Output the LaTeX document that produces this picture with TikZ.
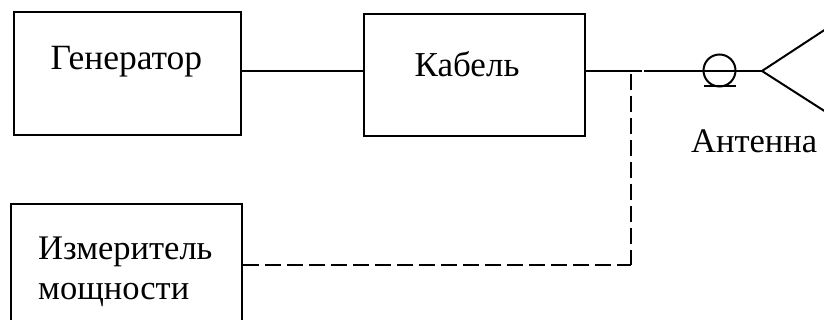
\documentclass[tikz,border=0pt]{standalone}
\usepackage{fontspec}
\setmainfont{Liberation Serif}
\tikzset{
  x=1pt,y=-1pt,
  block/.style={draw=black,line width=2pt,rectangle,inner sep=0pt,anchor=north west},
  wire/.style={draw=black,line width=2pt},
  dashwire/.style={draw=black,line width=2pt,dash pattern=on 16pt off 6pt},
  lbl/.style={inner sep=0pt,anchor=base west,text=black,font=\fontsize{#1}{#1}\selectfont},
  lbl/.default=35
}
\begin{document}
\begin{tikzpicture}
\useasboundingbox (0,0) rectangle (824,320);
\clip (0,0) rectangle (824,320);
\node[block,minimum width=227pt,minimum height=122.5pt] (gen) at (13,11.5) {};
\node[block,minimum width=221pt,minimum height=122pt] (cab) at (363,13) {};
\node[block,minimum width=231pt,minimum height=130pt] (met) at (10,203.5) {};
\node[lbl=35.5] (tgen) at (50.5,70) {Генератор};
\node[lbl] (tcab) at (414.5,77) {Кабель};
\node[lbl=34.5] (tmet1) at (38,259) {Измеритель};
\node[lbl=34.5] (tmet2) at (38,299) {мощности};
\node[lbl=34.5] (tant) at (691,153) {Антенна};
\coordinate (gencab) at (gen.east |- 0,71);
\coordinate (cabgen) at (cab.west |- 0,71);
\coordinate (cabout) at (cab.east |- 0,71);
\coordinate (gapl) at (642,71);
\coordinate (gapr) at (644,71);
\coordinate (apex) at (762,71);
\coordinate (armup) at (826,29);
\coordinate (armdn) at (826,112);
\coordinate (metout) at (met.east |- 0,265);
\coordinate (corner) at (631,265);
\coordinate (tap) at (631,74);
\node[draw=black,line width=2pt,circle,inner sep=0pt,minimum size=32pt] (ring) at (719.5,70.5) {};
\coordinate (barl) at (704,86.5);
\coordinate (barr) at (736,86.5);
\draw[wire] (gencab) -- (cabgen);
\draw[wire] (cabout) -- (gapl);
\draw[wire] (gapr) -- (apex);
\draw[wire] (armup) -- (apex) -- (armdn);
\draw[wire] (barl) -- (barr);
\draw[dashwire] (metout) -- (corner);
\draw[dashwire] (tap) -- (corner);
\end{tikzpicture}
\end{document}
